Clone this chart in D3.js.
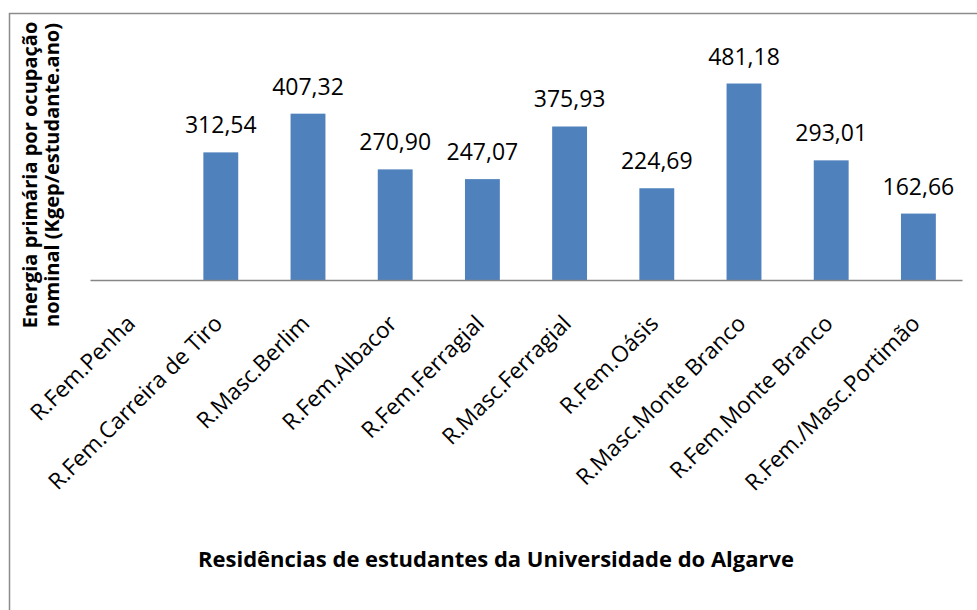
<!DOCTYPE html>
<html>
<head>
  <meta charset="utf-8">
  <script src="https://cdn.jsdelivr.net/npm/d3@7/dist/d3.min.js"></script>
  <style>
    body { margin: 0; background: #fff; }
    text { font-family: "Open Sans", Lato, sans-serif; }
  </style>
</head>
<body>
  <svg id="chart"></svg>
  <script>
    const residencias = ["R.Fem.Penha", "R.Fem.Carreira de Tiro", "R.Masc.Berlim", "R.Fem.Albacor",
      "R.Fem.Ferragial", "R.Masc.Ferragial", "R.Fem.Oásis", "R.Masc.Monte Branco",
      "R.Fem.Monte Branco", "R.Fem./Masc.Portimão"];
    const energia = [null, 312.54, 407.32, 270.90, 247.07, 375.93, 224.69, 481.18, 293.01, 162.66];

    const width = 977, height = 610;
    const svg = d3.select("#chart").attr("width", width).attr("height", height);

    // chart border (only left/top visible in the crop)
    svg.append("rect")
      .attr("x", 9.5).attr("y", 13.5)
      .attr("width", 1000).attr("height", 1000)
      .attr("fill", "none").attr("stroke", "#8c8c8c").attr("stroke-width", 1.5);

    const x = d3.scaleBand().domain(residencias).range([90, 962]).paddingInner(0.6).paddingOuter(0.3);
    const y = d3.scaleLinear().domain([0, 600]).range([280, 35]);

    const data = residencias.map((r, i) => ({ r, v: energia[i] })).filter(d => d.v != null);

    svg.append("g")
      .selectAll("rect")
      .data(data)
      .join("rect")
      .attr("x", d => x(d.r))
      .attr("width", x.bandwidth())
      .attr("y", d => y(d.v))
      .attr("height", d => y(0) - y(d.v))
      .attr("fill", "#4f81bd");

    svg.append("g")
      .attr("text-anchor", "middle")
      .style("font-size", "23px")
      .selectAll("text")
      .data(data)
      .join("text")
      .attr("x", d => x(d.r) + x.bandwidth() / 2)
      .attr("y", d => y(d.v) - 19)
      .text(d => d3.format(".2f")(d.v).replace(".", ","));

    // x axis
    const xAxis = svg.append("g")
      .attr("transform", `translate(0,${y(0)})`)
      .call(d3.axisBottom(x).tickSize(0).tickSizeOuter(0));
    xAxis.select(".domain").attr("stroke", "#868686").attr("stroke-width", 1.5);
    xAxis.selectAll(".tick text")
      .attr("fill", "#000")
      .style("font-size", "22.5px")
      .style("font-family", "'Open Sans', sans-serif")
      .attr("text-anchor", "end")
      .attr("x", 0).attr("y", 0).attr("dy", 0)
      .attr("transform", "translate(3,45) rotate(-45)");

    // axis titles
    svg.append("text")
      .attr("x", 496).attr("y", 567)
      .attr("text-anchor", "middle")
      .style("font-size", "22px").style("font-weight", "bold")
      .text("Residências de estudantes da Universidade do Algarve");

    const yt = svg.append("text")
      .attr("transform", "translate(0,175) rotate(-90)")
      .attr("text-anchor", "middle")
      .style("font-size", "20px").style("font-weight", "bold");
    yt.append("tspan").attr("x", 0).attr("y", 37).text("Energia primária por ocupação");
    yt.append("tspan").attr("x", 0).attr("y", 59).text("nominal (Kgep/estudante.ano)");
  </script>
</body>
</html>
